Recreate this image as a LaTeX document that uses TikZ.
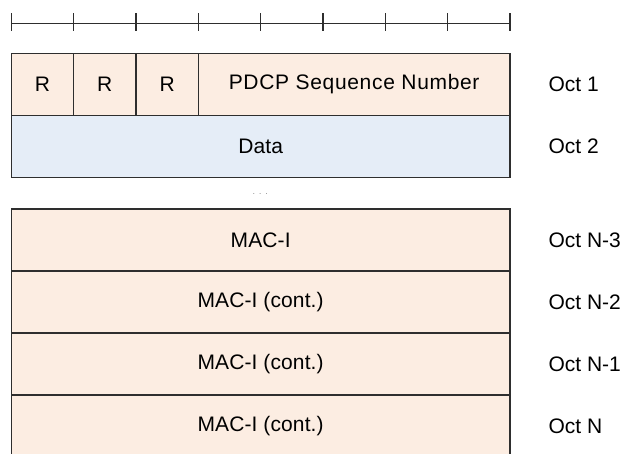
\documentclass[tikz,border=0pt]{standalone}
\usepackage{fontspec}
\setmainfont{Liberation Sans}
\usetikzlibrary{positioning}
\definecolor{pdupeach}{HTML}{FCEDE2}
\definecolor{pdublue}{HTML}{E5EDF7}
\definecolor{pduline}{HTML}{2E2E2E}

\begin{document}
\begin{tikzpicture}[x=1pt,y=-1pt,
		every node/.style={inner sep=0pt,outer sep=0pt},
		field/.style={draw=pduline,line width=1.3pt,fill=pdupeach,minimum height=62pt,font=\fontsize{21}{25}\selectfont\addfontfeature{LetterSpace=0.5}},
		octlabel/.style={font=\fontsize{21}{25}\selectfont}]
		\useasboundingbox (0,0) rectangle (626,453);
		\coordinate (rulerL) at (11.3,23.3);
		\coordinate (rulerR) at (510,23.3);
		\draw [pduline,line width=1.3pt] (rulerL) -- (rulerR);
		\foreach \i in {0,...,8}
			\draw [pduline,line width=1.3pt] ([xshift=\i*62.34pt,yshift=10pt]rulerL) -- ++(0,17.5);
		\node [field,anchor=north west,minimum width=62.34pt] (r1) at (11.3,53.3) {R};
		\node [field,minimum width=62.34pt,right=0pt of r1] (r2) {R};
		\node [field,minimum width=62.34pt,right=0pt of r2] (r3) {R};
		\node [field,minimum width=311.7pt,right=0pt of r3,font=\fontsize{21}{25}\selectfont\addfontfeature{LetterSpace=3.2}] (sn) {PDCP Sequence Number};
		\node [field,fill=pdublue,anchor=north west,minimum width=498.7pt] (data) at (r1.south west) {Data};
		\node [font=\fontsize{6}{6}\selectfont] (gap) at (260.3,194.5) {.\hspace{4.6pt}.\hspace{4.6pt}.};
		\node [field,anchor=north west,minimum width=498.7pt] (mac0) at (11.3,209) {MAC-I};
		\node [field,minimum width=498.7pt,below=0pt of mac0] (mac1) {MAC-I (cont.)};
		\node [field,minimum width=498.7pt,below=0pt of mac1] (mac2) {MAC-I (cont.)};
		\node [field,minimum width=498.7pt,below=0pt of mac2] (mac3) {MAC-I (cont.)};
		\node [octlabel,right=38.5pt of sn] (oct1) {Oct 1};
		\node [octlabel,right=38.5pt of data] (oct2) {Oct 2};
		\node [octlabel,right=38.5pt of mac0] (octn3) {Oct N-3};
		\node [octlabel,right=38.5pt of mac1] (octn2) {Oct N-2};
		\node [octlabel,right=38.5pt of mac2] (octn1) {Oct N-1};
		\node [octlabel,right=38.5pt of mac3] (octn) {Oct N};
	\end{tikzpicture}
\end{document}
